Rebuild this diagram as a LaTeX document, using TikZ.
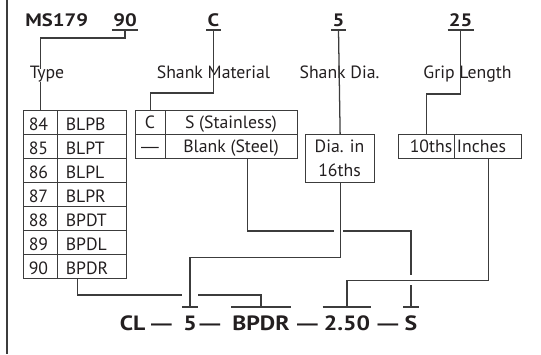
\documentclass[tikz,border=0pt]{standalone}
\usepackage{fontspec}
\setmainfont{PT Sans}[BoldFeatures={FakeStretch=1.15}]
\newfontfamily\dashfont{Liberation Sans}
\definecolor{lc}{HTML}{3C3C3C}
\definecolor{tc}{HTML}{231F20}
\begin{document}
\begin{tikzpicture}[x=0.75pt,y=-0.75pt,
  ln/.style={draw=lc, line width=0.95pt},
  cellbox/.style={draw=lc, line width=0.95pt, anchor=north west, inner sep=0pt, minimum height=18pt},
  tx/.style={font=\fontsize{13.3}{15}\selectfont, text=tc, inner sep=0pt, anchor=base},
  hd/.style={font=\fontsize{13.5}{15}\selectfont\bfseries, text=tc, inner sep=0pt, anchor=base},
  bt/.style={font=\fontsize{15.5}{17}\selectfont\bfseries, text=tc, inner sep=0pt, anchor=base},
]
\useasboundingbox (0,0) rectangle (541,354);
\draw[lc, line width=1.1pt] (7,0) -- (7,354);

% headers
\node[hd, anchor=base west] (ms) at (25,26) {MS179};
\node[hd] (h90) at (125,26) {90};
\node[hd] (hC) at (213.5,26) {C};
\node[hd] (h5) at (338.5,26) {5};
\node[hd] (h25) at (460.5,26) {25};
\foreach \h in {h90,hC,h5,h25}{
  \draw[ln] ([xshift=-0.75pt,yshift=-3pt]\h.base west) -- ([xshift=0.75pt,yshift=-3pt]\h.base east);
  \coordinate (u\h) at ([yshift=-3pt]\h.base);
}

% labels
\node[tx] (ltype) at (47,78) {Type};
\node[tx] (lmat) at (213.5,78) {Shank Material};
\node[tx] (ldia) at (339.5,78) {Shank Dia.};
\node[tx] (lgrip) at (467.5,78) {Grip Length};

% table 1
\foreach \n/\c [count=\i from 0] in {84/BLPB,85/BLPT,86/BLPL,87/BLPR,88/BPDT,89/BPDL,90/BPDR}{
  \node[cellbox, minimum width=25.5pt] (ta\i) at (23,110+24*\i) {};
  \node[cellbox, minimum width=51.75pt] (tb\i) at (57,110+24*\i) {};
  \node[tx, anchor=base west] (tan\i) at (28.5,130.5+24*\i) {\n};
  \node[tx, anchor=base west] (tbn\i) at (65.5,130.5+24*\i) {\c};
}

% table 2
\node[cellbox, minimum width=22.5pt] (tc0) at (135,110) {};
\node[cellbox, minimum width=99pt] (td0) at (165,110) {};
\node[cellbox, minimum width=22.5pt] (tc1) at (135,134) {};
\node[cellbox, minimum width=99pt] (td1) at (165,134) {};
\node[tx] (tcn0) at (150,128.5) {C};
\node[tx] (tdn0) at (231,128.5) {S (Stainless)};
\node[tx] (tcn1) at (150,152.5) {\dashfont —};
\node[tx] (tdn1) at (231,152.5) {Blank (Steel)};

% dia box
\node[cellbox, minimum width=51.75pt, minimum height=36pt] (dia) at (305,134) {};
\node[tx] (dia1) at (339.5,152) {Dia. in};
\node[tx] (dia2) at (339.5,176) {16ths};

% grip box
\node[cellbox, minimum width=42pt] (g1) at (398,134) {};
\node[cellbox, minimum width=50.25pt] (g2) at (454,134) {};
\node[tx] (g1n) at (431,152) {10ths};
\node[tx] (g2n) at (481.5,152) {Inches};

% bottom code
\node[bt] (bCL) at (132.5,330) {CL};
\node[bt] (bd1) at (161.5,330) {\dashfont —};
\node[bt] (b5) at (190,330) {5};
\node[bt] (bd2) at (210,330) {\dashfont —};
\node[bt] (bBP) at (261,330) {BPDR};
\node[bt] (bd3) at (307.5,330) {\dashfont —};
\node[bt] (b250) at (347,330) {2.50};
\node[bt] (bd4) at (388,330) {\dashfont —};
\node[bt] (bS) at (411,330) {S};
\foreach \b in {b5,bBP,b250,bS}{
  \draw[ln] ([xshift=-0.75pt,yshift=17.25pt]\b.base west) -- ([xshift=0.75pt,yshift=17.25pt]\b.base east);
  \coordinate (o\b) at ([yshift=17.25pt]\b.base);
}

% top connectors
\draw[ln] (uh90) -- ++(0,8) -| ([yshift=-3pt]ta0.north |- ltype.north);
\draw[ln] (ta0.north |- ltype.south) -- (ta0.north);
\draw[ln] (uhC) -- ++(0,63) -| (tc0.north);
\draw[ln] (uh5) -- (dia.north);
\draw[ln] (uh25) -- ++(0,64) -| (g1.north);

% bottom connectors
\coordinate (bst) at ([xshift=-10.9pt]tb6.south);
\draw[ln] (bst) -- (bst |- 0,295) -- (182,295);
\draw[ln] (198,295) -- (obBP |- 0,295) -- (obBP);
\draw[ln] (dia.south) -- ++(0,74) -| (ob5);
\coordinate (sst) at ([xshift=12pt]td1.south);
\draw[ln] (sst) -- (sst |- 0,231) -- (334,231);
\draw[ln] (343,231) -- (obS |- 0,231) -- (obS |- 0,275);
\draw[ln] (obS |- 0,285) -- (obS);
\draw[ln] (g2.south) -- ++(0,121) -| (ob250);
\end{tikzpicture}
\end{document}
